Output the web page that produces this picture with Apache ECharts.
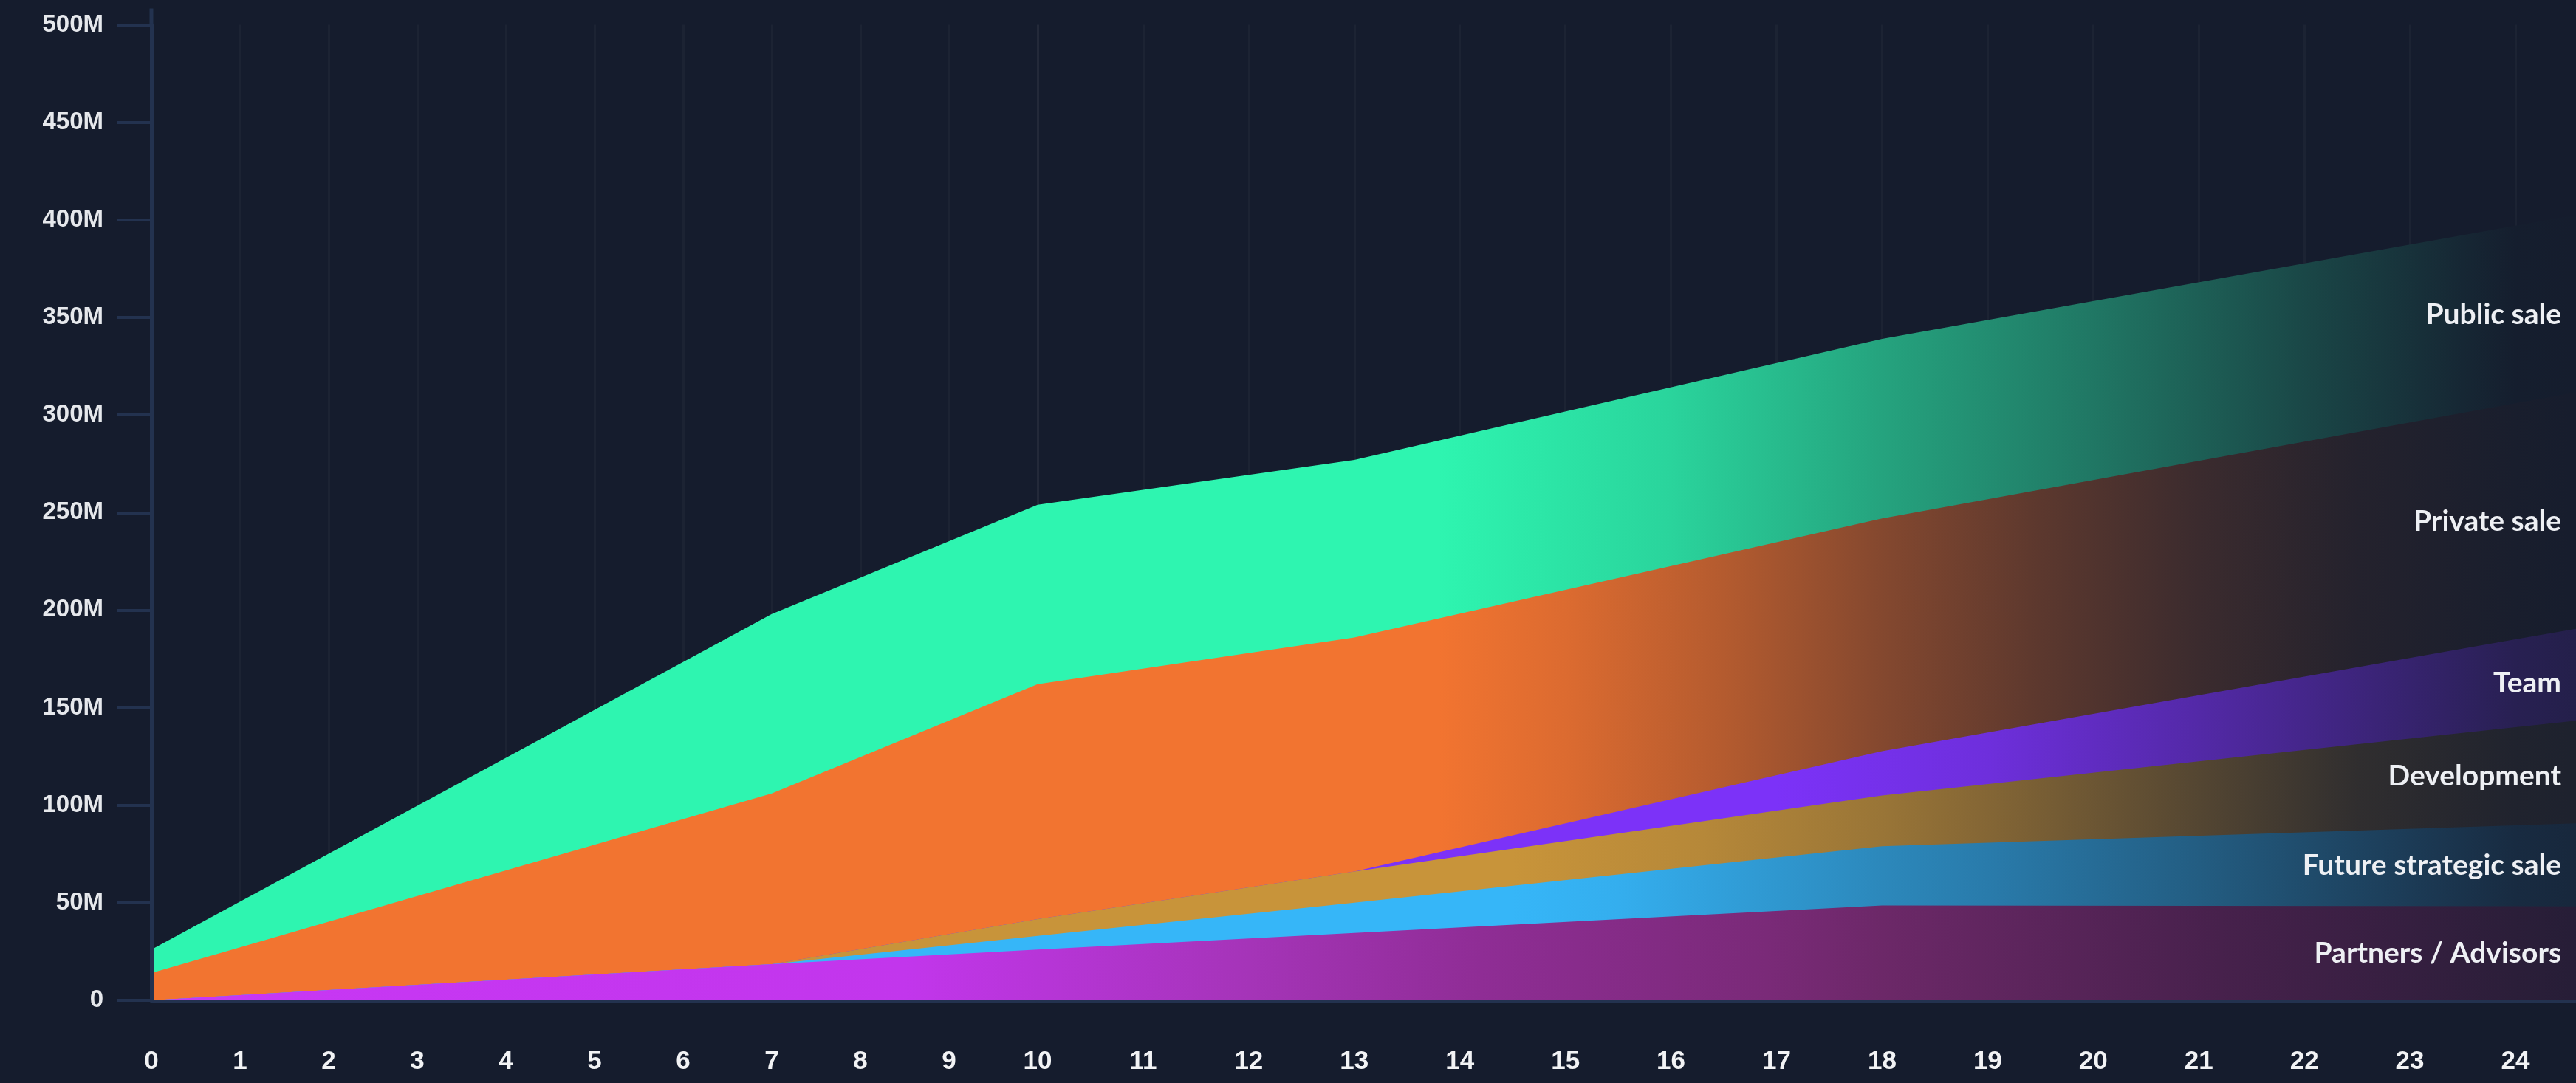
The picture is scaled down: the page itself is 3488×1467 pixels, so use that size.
<!DOCTYPE html>
<html>
<head>
<meta charset="utf-8">
<style>
  html, body { margin: 0; padding: 0; background: #151c2d; }
  #chart { width: 3488px; height: 1467px; }
</style>
<script src="https://cdn.jsdelivr.net/npm/echarts@6/dist/echarts.min.js"></script>
</head>
<body>
<div id="chart"></div>
<script>
// ---------------- DATA (millions of tokens, month index) ----------------
// month 25 is the value where the bands leave the right edge of the picture
const months = [0, 7, 10, 13, 18, 24, 25];
const seriesNames = ['Partners / Advisors', 'Future strategic sale', 'Development', 'Team', 'Private sale', 'Public sale'];
const partners    = [0, 18.5, 26, 34.5, 48.6, 48.2, 48.1];
const futureSale  = [0, 0, 7, 15.5, 30.4, 41.5, 43.4];
const development = [0, 0, 8.6, 16, 26, 50.3, 54.3];
const team        = [0, 0, 0, 0, 22.7, 45, 48.7];
const privateSale = [14, 87.5, 120.4, 120, 119.3, 121, 121.3];
const publicSale  = [12, 92, 92, 91, 92, 91, 90.9];
const yTicks = [0, 50, 100, 150, 200, 250, 300, 350, 400, 450, 500];
const xTickMonths = [0,1,2,3,4,5,6,7,8,9,10,11,12,13,14,15,16,17,18,19,20,21,22,23,24];
const labelMonth = 24;

const layers = [partners, futureSale, development, team, privateSale, publicSale];

// cumulative tops of each band (bottom band first)
const cumulative = [];
layers.forEach((vals, i) => {
  cumulative.push(vals.map((v, k) => v + (i > 0 ? cumulative[i - 1][k] : 0)));
});

// ---------------- LAYOUT / STYLE ----------------
const BG = [21, 28, 45];
const GRID_TOP = 33.5, GRID_H = 1321.5;
const X0 = 205, SPLIT_M = 10, UNIT1 = 120, UNIT2 = 142.93, MAX2 = 25;
const X_SPLIT = X0 + SPLIT_M * UNIT1;
function monthPx(m) { return m <= SPLIT_M ? X0 + m * UNIT1 : X_SPLIT + (m - SPLIT_M) * UNIT2; }
const GX0 = monthPx(0), GX1 = monthPx(25);

function hex(h) { return [parseInt(h.slice(1,3),16), parseInt(h.slice(3,5),16), parseInt(h.slice(5,7),16)]; }
function mix(c, a) {
  return 'rgb(' + c.map((v, j) => Math.round(BG[j] * (1 - a) + v * a)).join(',') + ')';
}
function grad(stops) {
  return {
    type: 'linear', global: true, x: GX0, y: 0, x2: GX1, y2: 0,
    colorStops: stops.map(s => ({ offset: (monthPx(s[0]) - GX0) / (GX1 - GX0), color: s[1] }))
  };
}
function alphaStops(c, st) { return st.map(s => [s[0], mix(c, s[1])]); }

const fills = [
  grad([[0,'#c837f5'],[8.5,'#c236ec'],[10,'#b735d8'],[12,'#a534b8'],[14.2,'#8f2d95'],[16.9,'#7a2a78'],[18,'#6c2868'],[21.2,'#47214c'],[24,'#2b1e39'],[25,'#231d35']].map(s => [s[0], mix(hex(s[1]), 1)])),
  grad(alphaStops([54,182,248], [[0,1],[14.5,1],[15.5,0.95],[18,0.7],[19,0.62],[21,0.42],[23,0.2],[24,0.1],[25,0.06]])),
  grad(alphaStops([200,148,58], [[0,1],[14.5,1],[16.3,0.9],[18,0.74],[19,0.62],[21,0.35],[22.5,0.15],[24,0.06],[25,0.04]])),
  grad(alphaStops([124,50,248], [[0,1],[17,1],[19,0.86],[21,0.6],[23,0.32],[24,0.18],[25,0.12]])),
  grad(alphaStops([242,116,48], [[0,1],[13.8,1],[15,0.9],[16.5,0.72],[18,0.5],[19.5,0.32],[21,0.17],[22.5,0.07],[24,0.02],[25,0]])),
  grad(alphaStops([46,245,176], [[0,1],[13.8,1],[16,0.85],[18,0.62],[20,0.42],[22,0.2],[23.5,0.05],[24,0.01],[25,0]]))
];

const AXIS_COLOR = '#23324f';
const GRIDLINE = 'rgba(255,255,255,0.03)';
const LABEL_GAP = 62;

// Each band is drawn as an opaque area down to the axis, top band first,
// so each lower band covers the part of the one above it.
const series = [];
[0, 1].forEach(g => {
  for (let i = layers.length - 1; i >= 0; i--) {
    const pts = [];
    months.forEach((m, k) => {
      if ((g === 0 && m <= SPLIT_M) || (g === 1 && m >= SPLIT_M)) pts.push([m, cumulative[i][k]]);
    });
    series.push({
      name: seriesNames[i], type: 'line', xAxisIndex: g, yAxisIndex: g,
      symbol: 'none', smooth: false, data: pts,
      lineStyle: { width: 0 }, areaStyle: { color: fills[i], opacity: 1 },
      emphasis: { disabled: true }, silent: true, z: 2
    });
  }
});

const chart = echarts.init(document.getElementById('chart'), null, { renderer: 'canvas' });
chart.setOption({
  backgroundColor: '#151c2d',
  animation: false,
  grid: [
    { left: X0, top: GRID_TOP, width: SPLIT_M * UNIT1, height: GRID_H, containLabel: false, outerBoundsMode: 'none' },
    { left: X_SPLIT, top: GRID_TOP, width: (MAX2 - SPLIT_M) * UNIT2, height: GRID_H, containLabel: false, outerBoundsMode: 'none' }
  ],
  xAxis: [0, 1].map(g => ({
    type: 'value', gridIndex: g,
    min: g === 0 ? 0 : SPLIT_M, max: g === 0 ? SPLIT_M : MAX2, interval: 1,
    axisLine: { show: true, lineStyle: { color: AXIS_COLOR, width: 5 } },
    axisTick: { show: false },
    splitLine: { show: true, lineStyle: { color: GRIDLINE, width: 3 } },
    axisLabel: {
      show: true, showMaxLabel: false, margin: 66,
      formatter: v => (xTickMonths.indexOf(v) >= 0 ? String(v) : ''),
      color: '#f2f3f5', fontFamily: 'Liberation Sans', fontWeight: 'bold', fontSize: 35
    }
  })),
  yAxis: [
    {
      type: 'value', gridIndex: 0, min: yTicks[0], max: yTicks[yTicks.length - 1], interval: 50,
      axisLine: { show: true, lineStyle: { color: AXIS_COLOR, width: 5 } },
      axisTick: { show: true, length: 46, lineStyle: { color: AXIS_COLOR, width: 4 } },
      splitLine: { show: false },
      axisLabel: {
        margin: 65, align: 'right',
        formatter: v => (v === 0 ? '0' : v + 'M'),
        color: '#e6e8ec', fontFamily: 'Liberation Sans', fontWeight: 'bold', fontSize: 33
      },
      z: 3
    },
    {
      type: 'value', gridIndex: 1, min: yTicks[0], max: yTicks[yTicks.length - 1], interval: 50,
      axisLine: { show: false }, axisTick: { show: false }, axisLabel: { show: false },
      splitLine: { show: false }
    }
  ],
  series: series
});

// band labels near the right edge, centred in each band at month 24
const li = months.indexOf(labelMonth);
const graphics = layers.map((vals, i) => {
  const p = chart.convertToPixel({ xAxisIndex: 1, yAxisIndex: 1 }, [labelMonth, cumulative[i][li] - vals[li] / 2]);
  return {
    type: 'text', x: p[0] + LABEL_GAP, y: p[1], z: 10, silent: true,
    style: {
      text: seriesNames[i], align: 'right', verticalAlign: 'middle',
      fill: '#eef0f4', fontFamily: 'Lato', fontWeight: 'bold', fontSize: 39
    }
  };
});
// the y axis line runs a little above the top tick
const axisTopPx = chart.convertToPixel({ xAxisIndex: 0, yAxisIndex: 0 }, [0, yTicks[yTicks.length - 1]]);
graphics.push({
  type: 'line', z: 1, silent: true,
  shape: { x1: axisTopPx[0], y1: axisTopPx[1] - 22, x2: axisTopPx[0], y2: axisTopPx[1] },
  style: { stroke: AXIS_COLOR, lineWidth: 5 }
});
chart.setOption({ graphic: graphics });
</script>
</body>
</html>
